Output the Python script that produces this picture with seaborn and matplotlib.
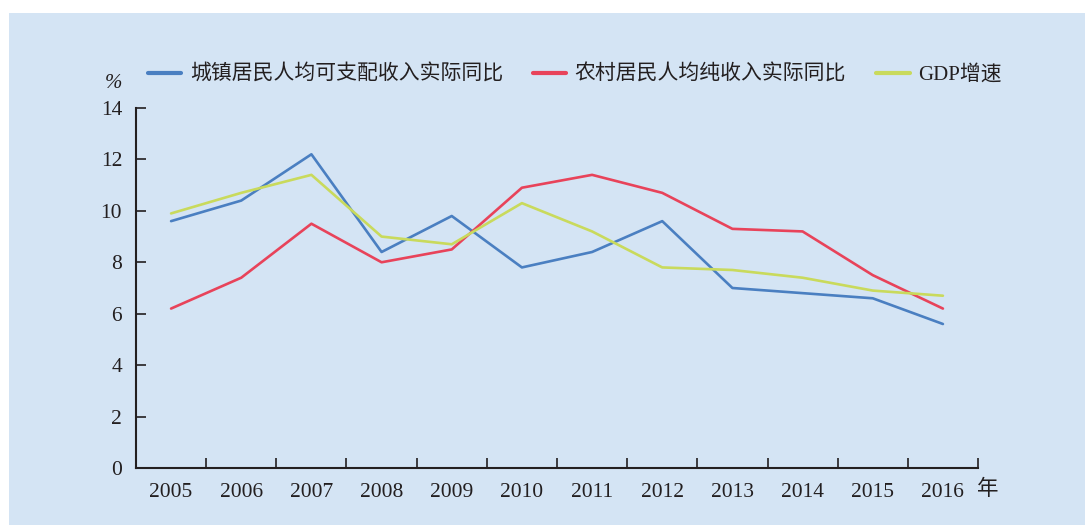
import pandas as pd
import seaborn as sns
import matplotlib.pyplot as plt
from matplotlib.patches import Rectangle
from matplotlib.ticker import FixedLocator, NullFormatter

years = ['2005', '2006', '2007', '2008', '2009', '2010',
         '2011', '2012', '2013', '2014', '2015', '2016']
urban = [9.6, 10.4, 12.2, 8.4, 9.8, 7.8, 8.4, 9.6, 7.0, 6.8, 6.6, 5.6]
rural = [6.2, 7.4, 9.5, 8.0, 8.5, 10.9, 11.4, 10.7, 9.3, 9.2, 7.5, 6.2]
gdp = [9.9, 10.7, 11.4, 9.0, 8.7, 10.3, 9.2, 7.8, 7.7, 7.4, 6.9, 6.7]
series_names = ['城镇居民人均可支配收入实际同比', '农村居民人均纯收入实际同比', 'GDP增速']
colors = ['#4a7fc1', '#e8435a', '#c9da5c']
yticks = [0, 2, 4, 6, 8, 10, 12, 14]

# long form table for seaborn
rows = []
for name, vals in zip(series_names, [urban, rural, gdp]):
    for i, v in enumerate(vals):
        rows.append({'idx': i, 'value': v, 'series': name})
df = pd.DataFrame(rows)

sns.set_theme(style='ticks')
plt.rcParams['font.family'] = ['Liberation Serif', 'Noto Sans CJK SC']
plt.rcParams['font.size'] = 15

bg = '#d4e4f4'
fig = plt.figure(figsize=(10.85, 5.25), dpi=100, facecolor='white')
fig.patches.append(Rectangle((9 / 1085, 0), 1, 1 - 13 / 525, transform=fig.transFigure,
                             facecolor=bg, edgecolor='none', zorder=-10))
ax = fig.add_axes([136 / 1085, 1 - 468 / 525, (978 - 136) / 1085, (468 - 108) / 525])
ax.patch.set_alpha(0)

sns.lineplot(data=df, x='idx', y='value', hue='series', hue_order=series_names,
             palette=colors, linewidth=1.9, ax=ax)

ax.set_xlim(-0.5, 11.5)
ax.set_ylim(0, 14)
ax.set_yticks(yticks)
ax.set_yticklabels([str(t) for t in yticks])
ax.set_xticks(range(len(years)))
ax.set_xticklabels(years)
ax.xaxis.set_minor_locator(FixedLocator([i - 0.5 for i in range(len(years) + 1)]))
ax.xaxis.set_minor_formatter(NullFormatter())
ax.tick_params(axis='x', which='major', length=0, pad=11, labelsize=15.5, colors='#231f20')
ax.tick_params(axis='x', which='minor', direction='in', length=7, width=1.2, color='#231f20')
ax.tick_params(axis='y', direction='in', length=7, width=1.2, pad=10, labelsize=15.5,
               colors='#231f20')
for s in ['top', 'right']:
    ax.spines[s].set_visible(False)
for s in ['left', 'bottom']:
    ax.spines[s].set_linewidth(1.5)
    ax.spines[s].set_color('#231f20')
ax.set_xlabel('')
ax.set_ylabel('')

fig.text(113 / 1085, 1 - 84 / 525, '%', fontsize=15, style='italic', color='#231f20',
         ha='center', va='center')
fig.text(988 / 1085, 1 - 490 / 525, '年', fontsize=15.5, color='#231f20',
         ha='center', va='center')

handles, labels = ax.get_legend_handles_labels()
ax.legend(handles, labels, ncol=3, frameon=False, loc='center left',
          bbox_to_anchor=(148 / 1085, 1 - 75 / 525), bbox_transform=fig.transFigure,
          borderpad=0, borderaxespad=0,
          handlelength=1.6, handletextpad=0.4, columnspacing=1.45, fontsize=15,
          labelcolor='#231f20')
for line in ax.get_legend().get_lines():
    line.set_linewidth(3)

fig.savefig('out.png', dpi=100, facecolor='white')
